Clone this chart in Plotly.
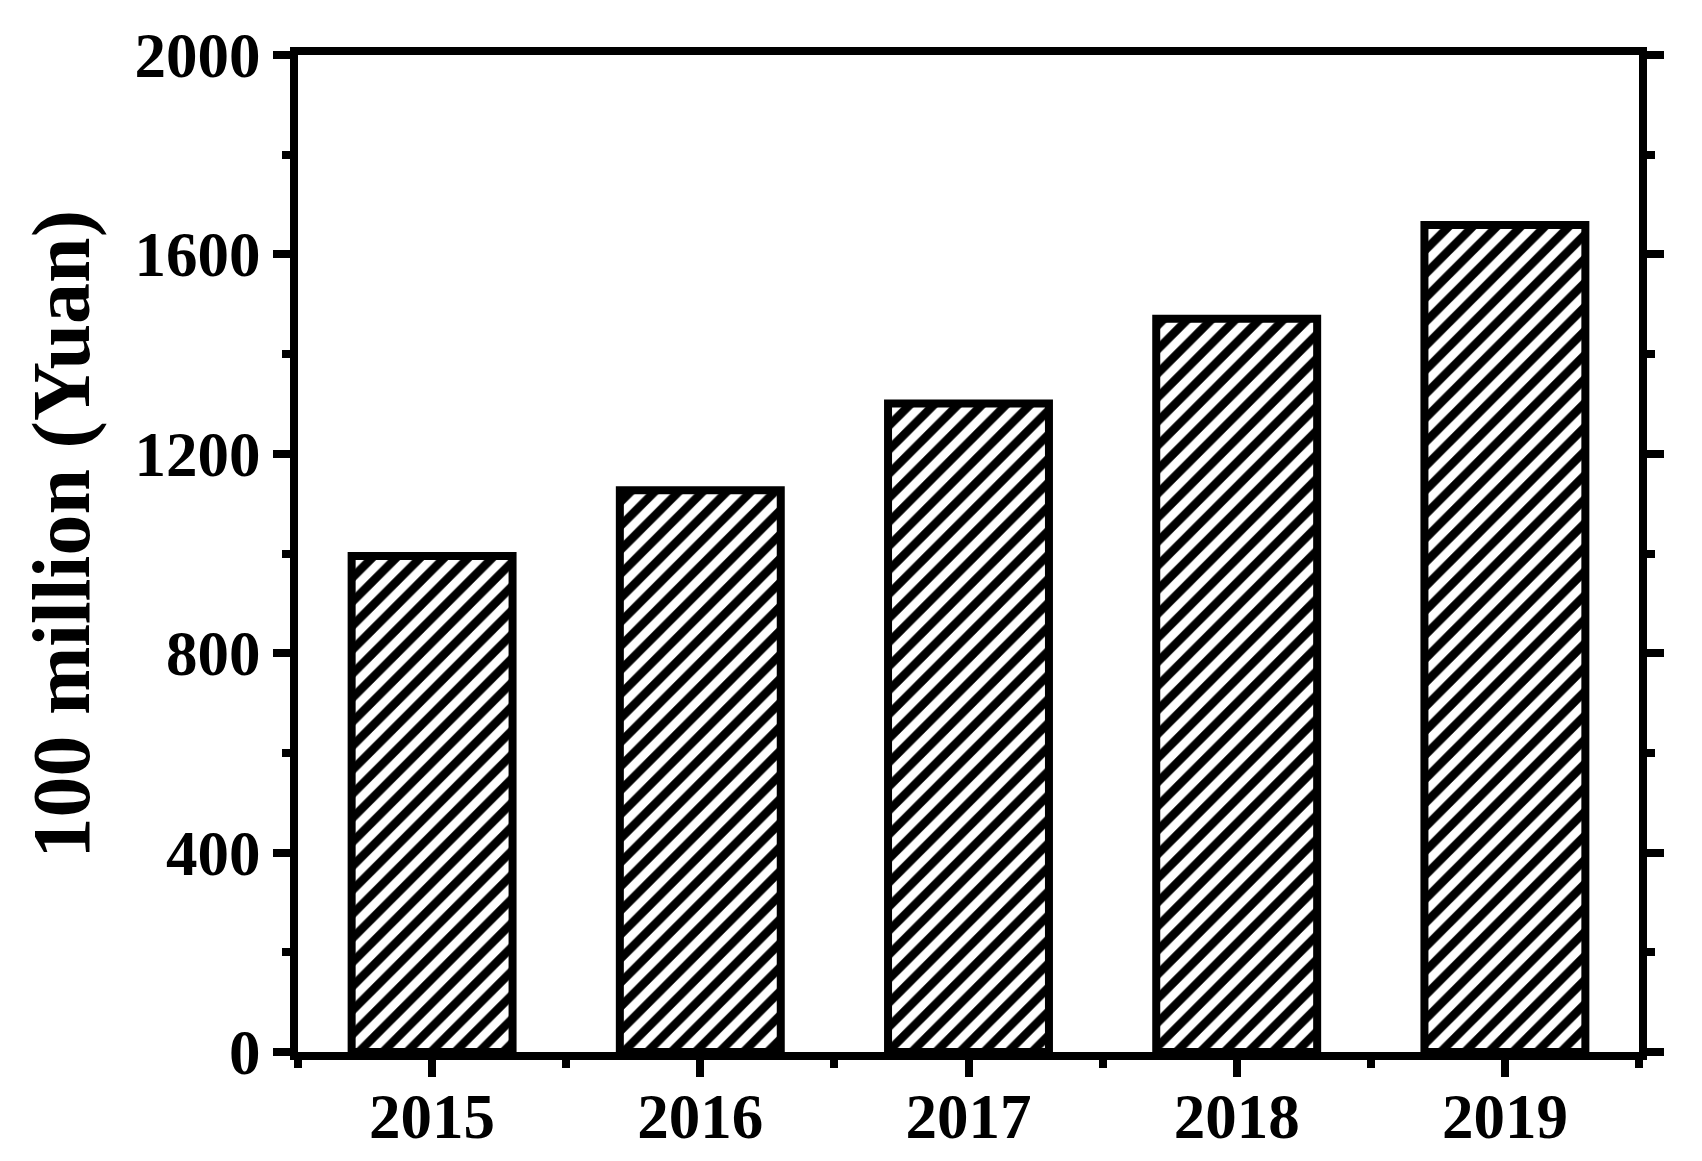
import plotly.graph_objects as go

# данные
years = [2015, 2016, 2017, 2018, 2019]
values = [995, 1127, 1301, 1471, 1659]
y_title = '100 million (Yuan)'

font_family = 'Liberation Serif'
tick_size = 63

fig = go.Figure()

# столбцы со штриховкой
fig.add_trace(
    go.Bar(
        x=years,
        y=values,
        width=0.6,
        marker=dict(
            color='white',
            line=dict(color='black', width=8),
            pattern=dict(shape='/', fgcolor='black', bgcolor='white',
                         fgopacity=1, size=17, solidity=0.5)
        ),
        hoverinfo='skip',
        showlegend=False
    )
)

# невидимый след для второй оси x (линия и засечки)
fig.add_trace(
    go.Scatter(
        x=years,
        y=values,
        xaxis='x2',
        mode='markers',
        marker=dict(opacity=0),
        hoverinfo='skip',
        showlegend=False
    )
)

fig.update_layout(
    width=1694,
    height=1153,
    margin=dict(l=290, r=63, t=47, b=109),
    plot_bgcolor='white',
    paper_bgcolor='white',
    font=dict(family=font_family, color='black', size=60),
    bargap=0.4,
    # ось x: только подписи (засечки прозрачные, задают отступ)
    xaxis=dict(
        range=[2014.5, 2019.5],
        tickmode='array',
        tickvals=years,
        ticktext=[str(y) for y in years],
        ticks='outside',
        ticklen=9,
        tickcolor='rgba(0,0,0,0)',
        showline=False,
        showgrid=False,
        zeroline=False,
        automargin=False,
        tickfont=dict(family=font_family, size=tick_size, color='black', weight='bold')
    ),
    # вторая ось x: рамка и засечки
    xaxis2=dict(
        overlaying='x',
        side='bottom',
        range=[2014.5, 2019.5],
        tickmode='array',
        tickvals=years,
        showticklabels=False,
        ticks='outside',
        ticklen=17,
        tickwidth=8,
        tickcolor='black',
        minor=dict(tick0=2014.5, dtick=1, ticks='outside', ticklen=8, tickwidth=8, tickcolor='black'),
        showline=True,
        linewidth=8,
        linecolor='black',
        mirror=True,
        showgrid=False,
        zeroline=False,
        automargin=False
    )
)

fig.update_yaxes(
    range=[0, 2000],
    tick0=0,
    dtick=400,
    ticks='outside',
    ticklen=17,
    tickwidth=8,
    tickcolor='black',
    minor=dict(dtick=200, ticks='outside', ticklen=8, tickwidth=8, tickcolor='black'),
    showline=True,
    linewidth=8,
    linecolor='black',
    mirror='ticks',
    showgrid=False,
    zeroline=False,
    automargin=False,
    tickfont=dict(family=font_family, size=tick_size, color='black', weight='bold')
)

# подпись оси y
fig.add_annotation(
    text=y_title,
    textangle=-90,
    xref='paper', yref='paper',
    x=0, y=0.519,
    xshift=-236,
    xanchor='center', yanchor='middle',
    showarrow=False,
    font=dict(family=font_family, size=82, color='black', weight='bold')
)

fig.write_html('out.html')
